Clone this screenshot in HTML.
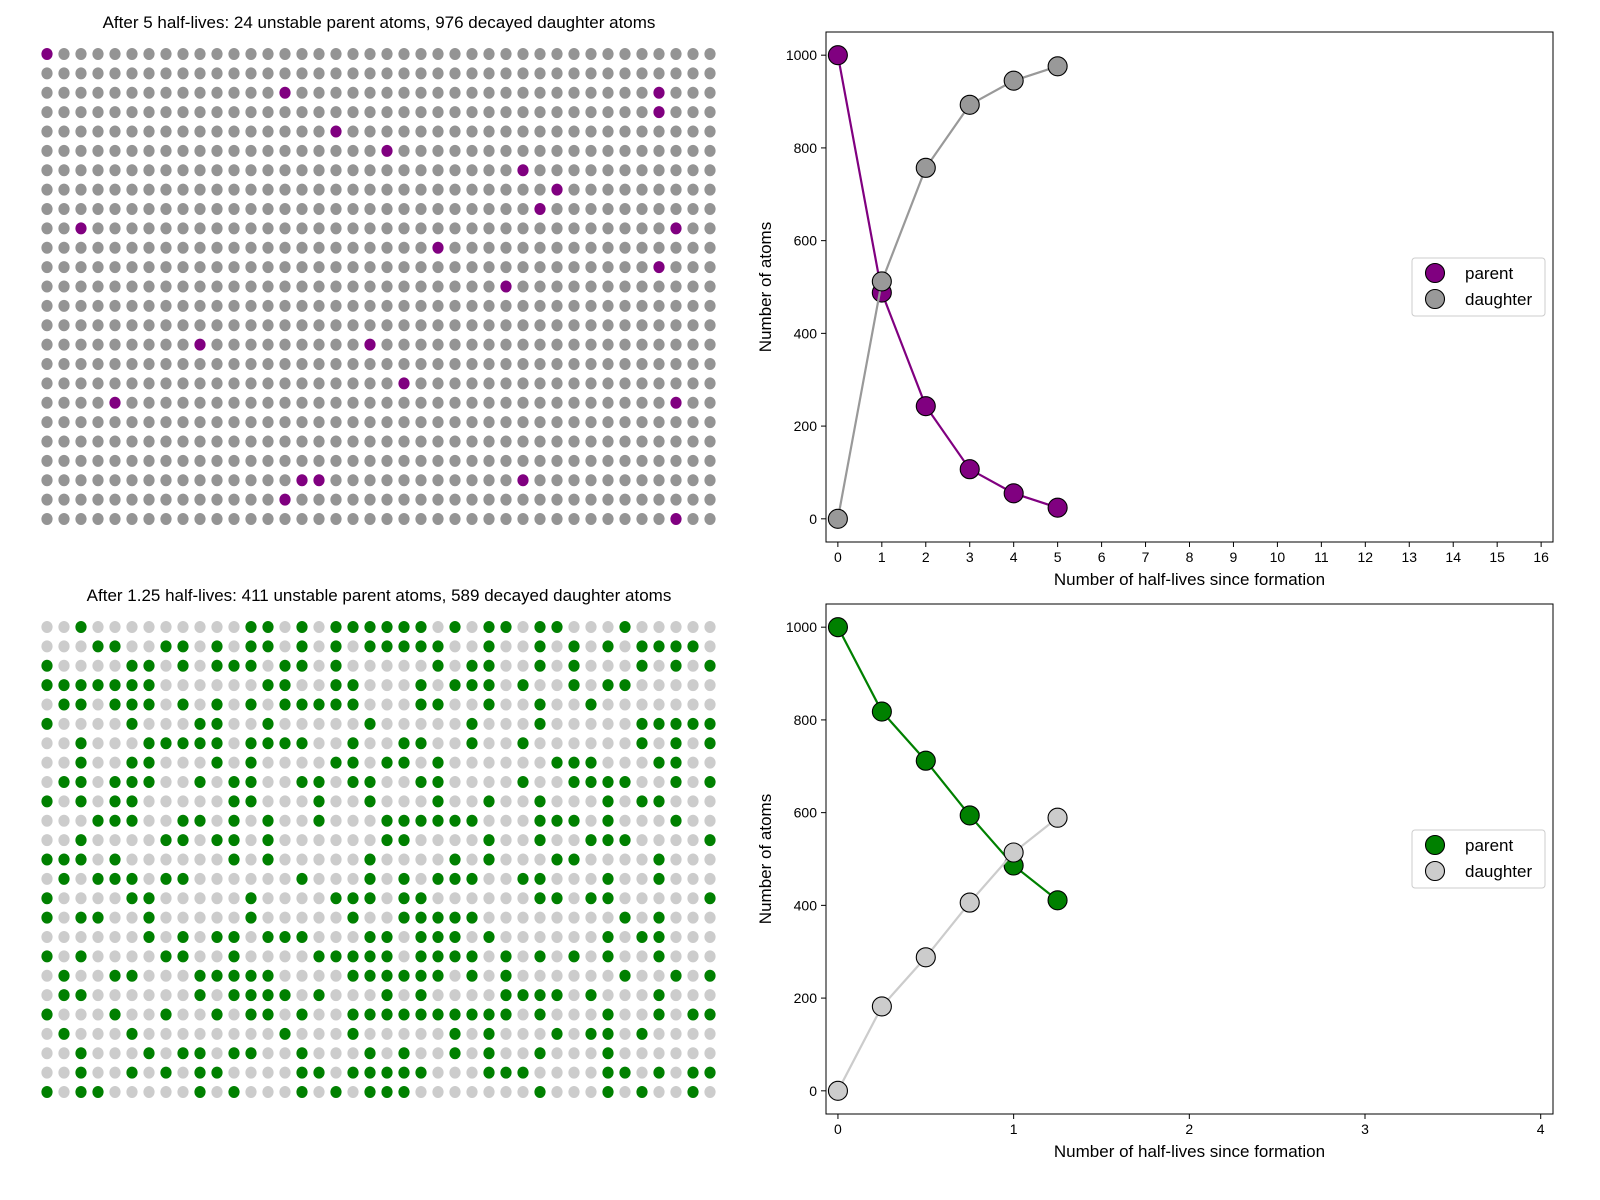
<!DOCTYPE html>
<html><head><meta charset="utf-8"><style>
html,body{margin:0;padding:0;background:#fff;}
svg{display:block;font-family:"Liberation Sans","DejaVu Sans",sans-serif;}
</style></head><body>
<svg id="fig" width="1600" height="1200" viewBox="0 0 1600 1200" xmlns="http://www.w3.org/2000/svg">
<rect width="1600" height="1200" fill="#fff"/>
<text x="379" y="28" font-size="17" text-anchor="middle">After 5 half-lives: 24 unstable parent atoms, 976 decayed daughter atoms</text>
<text x="379" y="601" font-size="17" text-anchor="middle">After 1.25 half-lives: 411 unstable parent atoms, 589 decayed daughter atoms</text>
<g id="grid1"></g>
<g id="grid2"></g>
<g id="chart1"></g>
<g id="chart2"></g>
</svg>
<script>
// ---- data ----
const topParentCells = [[0,0],[14,2],[36,2],[36,3],[17,4],[20,5],[28,6],[30,7],[29,8],[2,9],[37,9],[23,10],[36,11],[27,12],[9,15],[19,15],[21,17],[4,18],[37,18],[15,22],[16,22],[28,22],[14,23],[37,24]];
const bottomParentRows = [
[2,12,13,15,17,18,19,20,21,22,24,26,27,29,30,34],
[3,4,7,8,10,12,13,15,17,19,20,21,22,23,26,29,31,33,35,36,37,38],
[0,5,6,8,10,11,12,14,15,17,23,25,26,29,31,35,37,39],
[0,1,2,3,4,5,6,13,14,17,18,22,24,25,26,28,31,33,34],
[1,2,4,5,6,8,10,12,14,15,16,17,18,22,23,26,29,32],
[0,5,9,10,13,19,25,29,35,36,37,38,39],
[2,6,7,8,9,10,12,13,14,15,18,21,22,25,28,35,37,39],
[2,5,6,10,12,17,18,20,21,23,30,31,32,36,37],
[1,2,4,5,6,9,11,12,15,16,18,19,22,23,28,31,32,33,34,37,39],
[0,2,4,5,11,12,16,19,23,26,29,33,35,36],
[3,4,5,8,9,11,13,16,20,21,22,23,24,25,29,30,31,33,37],
[2,7,8,10,11,13,20,21,26,29,32,33,34,39],
[0,1,2,4,11,13,19,24,26,30,31,36],
[1,3,4,5,7,8,15,19,21,23,24,25,28,29,33,36],
[0,5,6,12,17,18,19,21,22,29,30,32,33,39],
[0,2,3,6,12,18,21,22,23,24,25,34,36],
[6,8,10,11,13,14,15,19,20,22,23,24,26,33,35,36],
[0,2,7,8,11,16,17,18,19,20,22,23,24,25,27,29,31,33,36],
[1,4,5,9,10,11,12,13,18,19,20,21,22,23,25,27,34,37,39],
[1,2,9,11,12,13,14,16,20,22,27,28,29,30,32,36],
[0,4,7,10,12,13,15,18,19,20,21,22,23,24,25,26,27,29,33,36,38,39],
[1,5,14,18,24,26,30,32,33,35],
[2,6,8,9,11,12,15,19,21,24,26,29,33],
[2,5,7,9,10,15,16,18,19,20,21,22,26,27,28,33,34,36,38,39],
[0,2,3,9,11,15,17,19,20,21,29,33,35,38]];

const topX = [0,1,2,3,4,5];
const topParent = [1000,488,243,107,55,24];
const topDaughter = [0,512,757,893,945,976];
const topXTicks = [0,1,2,3,4,5,6,7,8,9,10,11,12,13,14,15,16];
const botX = [0,0.25,0.5,0.75,1,1.25];
const botParent = [1000,818,712,594,486,411];
const botDaughter = [0,182,288,406,514,589];
const botXTicks = [0,1,2,3,4];
const yTicks = [0,200,400,600,800,1000];

const NS = "http://www.w3.org/2000/svg";
function mk(tag, attrs, parent){const e=document.createElementNS(NS,tag);for(const k in attrs)e.setAttribute(k,attrs[k]);parent.appendChild(e);return e;}

function drawGrid(g, y0, isParent, parentCol, daughterCol){
  for(let r=0;r<25;r++){for(let c=0;c<40;c++){
    const p=isParent(r,c);
    const e=mk('ellipse',{cx:47+c*17,cy:y0+r*19.375,rx:5.6,ry:6,fill:p?parentCol:daughterCol},g);
    
    
  }}
}
const topSet=new Set(topParentCells.map(a=>a[1]*40+a[0]));
drawGrid(document.getElementById('grid1'),54,(r,c)=>topSet.has(r*40+c),'#800080','#949494');
drawGrid(document.getElementById('grid2'),627,(r,c)=>bottomParentRows[r].includes(c),'#008000','#cccccc');

function drawChart(g, top, xmin, xmax, xs, parent, daughter, xticks, pCol, dCol){
  const L=826,R=1553,T=top,B=top+510;
  const sx=v=>L+(v-xmin)/(xmax-xmin)*(R-L);
  const sy=v=>B-(v+50)/1100*(B-T);
  for(const t of xticks){
    const x=sx(t);
    const tk=mk('line',{x1:x,x2:x,y1:B,y2:B+5,stroke:'#000','stroke-width':1},g);
    
    
    const tl=mk('text',{x:x,y:B+20,'font-size':14,'text-anchor':'middle'},g);tl.textContent=t;
    
    
  }
  for(const t of yTicks){
    const y=sy(t);
    const tk=mk('line',{x1:L-5,x2:L,y1:y,y2:y,stroke:'#000','stroke-width':1},g);
    
    
    const tl=mk('text',{x:L-9,y:y+5,'font-size':14,'text-anchor':'end'},g);tl.textContent=t;
    
    
  }
  const series=[[parent,pCol,'parent'],[daughter,dCol,'daughter']];
  for(const [vals,col,nm] of series){
    const pl=mk('polyline',{points:vals.map((v,i)=>sx(xs[i])+','+sy(v)).join(' '),fill:'none',stroke:col,'stroke-width':2.2},g);
    
    
    vals.forEach((v,i)=>{
      const c=mk('circle',{cx:sx(xs[i]),cy:sy(v),r:9.5,fill:col,stroke:'#000','stroke-width':1.1},g);
      
      
    });
  }
  const fr=mk('rect',{x:L,y:T,width:R-L,height:B-T,fill:'none',stroke:'#000','stroke-width':1},g);
  
  
  const xl=mk('text',{x:(L+R)/2,y:B+43,'font-size':17,'text-anchor':'middle'},g);xl.textContent='Number of half-lives since formation';
  
  
  const yl=mk('text',{x:0,y:0,'font-size':17,'text-anchor':'middle',transform:`translate(771,${(T+B)/2}) rotate(-90)`},g);yl.textContent='Number of atoms';
  
  
  const lg=mk('g',{},g);
  
  
  mk('rect',{x:1412,y:T+226,width:133,height:58,rx:3,fill:'#fff',stroke:'#ccc','stroke-width':1},lg);
  [['parent',pCol],['daughter',dCol]].forEach(([n,c],i)=>{
    const cy=T+241+i*26;
    const m=mk('circle',{cx:1435,cy:cy,r:9.5,fill:c,stroke:'#000','stroke-width':1.1},lg);
    
    
    const t=mk('text',{x:1465,y:cy+6,'font-size':17},lg);t.textContent=n;
    
    
  });
}
drawChart(document.getElementById('chart1'),32,-0.27,16.27,topX,topParent,topDaughter,topXTicks,'#800080','#999999');
drawChart(document.getElementById('chart2'),604,-0.068,4.07,botX,botParent,botDaughter,botXTicks,'#008000','#cccccc');
</script>
</body></html>
